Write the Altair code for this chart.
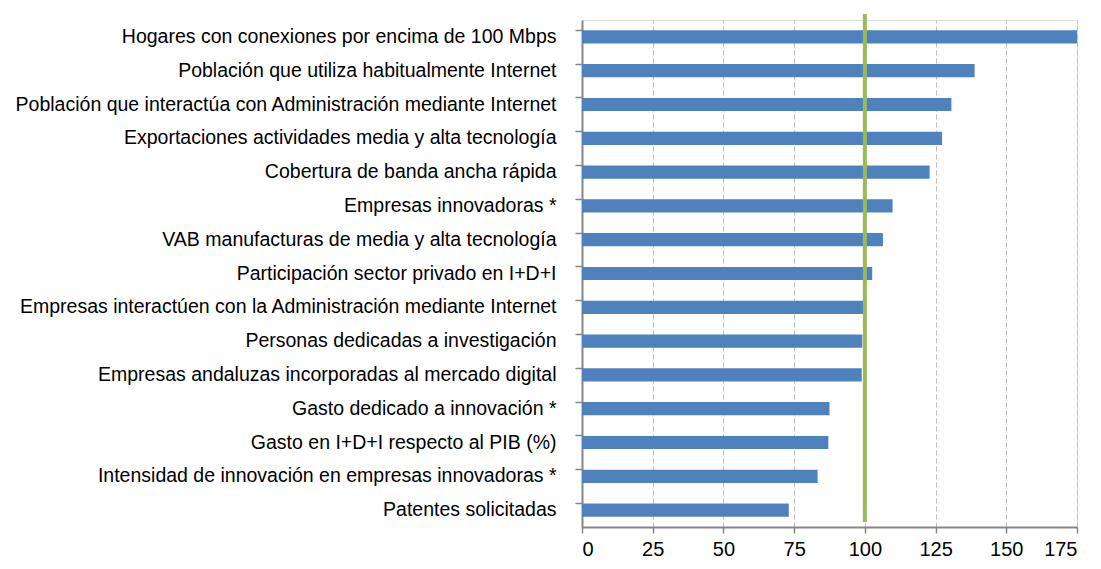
import altair as alt
import pandas as pd

categories = [
    "Hogares con conexiones por encima de 100 Mbps",
    "Población que utiliza habitualmente Internet",
    "Población que interactúa con Administración mediante Internet",
    "Exportaciones actividades media y alta tecnología",
    "Cobertura de banda ancha rápida",
    "Empresas innovadoras *",
    "VAB manufacturas de media y alta tecnología",
    "Participación sector privado en I+D+I",
    "Empresas interactúen con la Administración mediante Internet",
    "Personas dedicadas a investigación",
    "Empresas andaluzas incorporadas al mercado digital",
    "Gasto dedicado a innovación *",
    "Gasto en I+D+I respecto al PIB  (%)",
    "Intensidad de innovación en empresas innovadoras  *",
    "Patentes solicitadas",
]
values = [176, 138.8, 130.6, 127.3, 122.9, 109.8, 106.4, 102.6, 99.4, 99.1, 98.9, 87.5, 87.1, 83.3, 73.1]
reference = [100]
x_ticks = [0, 25, 50, 75, 100, 125, 150, 175]

df = pd.DataFrame({"cat": categories, "val": values})
ref_df = pd.DataFrame({"ref": reference})

FONT = "Liberation Sans, Arial, sans-serif"
W, H = 495, 507

bars = alt.Chart(df).mark_bar(color="#4F81BD", clip=True).encode(
    x=alt.X(
        "val:Q",
        scale=alt.Scale(domain=[0, 175], nice=False),
        axis=alt.Axis(
            values=x_ticks,
            title=None,
            grid=True,
            gridDash=[5, 3],
            gridColor="#BDBDBD",
            gridWidth=1,
            domainColor="#868686",
            domainWidth=2,
            tickColor="#868686",
            tickSize=6,
            tickWidth=1.5,
            labelFont=FONT,
            labelFontSize=20,
            labelColor="#000000",
            labelPadding=6,
        ),
    ),
    y=alt.Y(
        "cat:N",
        sort=categories,
        scale=alt.Scale(paddingInner=0.61, paddingOuter=0.305),
        axis=alt.Axis(
            title=None,
            grid=False,
            bandPosition=0,
            domainColor="#868686",
            domainWidth=2,
            tickColor="#868686",
            tickSize=7,
            tickWidth=1.5,
            labelFont=FONT,
            labelFontSize=19.5,
            labelColor="#000000",
            labelPadding=19,
            labelLimit=0,
        ),
    ),
)

rule = alt.Chart(ref_df).mark_rule(color="#9BBB59", strokeWidth=4).encode(
    x="ref:Q",
    y=alt.value(-6),
    y2=alt.value(H - 5),
)

chart = (
    alt.layer(bars, rule)
    .properties(
        width=W,
        height=H,
        padding={"left": 574, "top": 12, "right": 16, "bottom": 34},
        autosize=alt.AutoSizeParams(type="none"),
    )
    .configure_view(stroke=None)
    .configure(background="#ffffff")
)

chart.save("out.html", embed_options={"renderer": "svg", "actions": False})
